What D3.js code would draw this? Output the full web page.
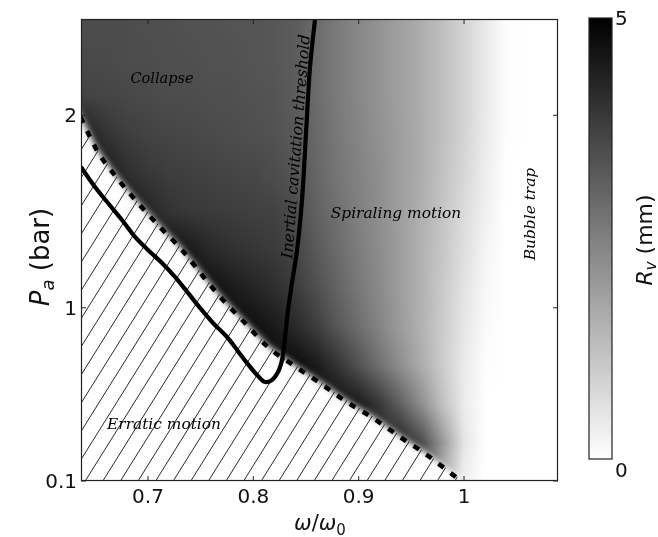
<!DOCTYPE html>
<html><head><meta charset="utf-8">
<script src="https://cdn.jsdelivr.net/npm/d3@7"></script>
<style>
html,body{margin:0;padding:0;background:#fff;}
#wrap{position:relative;width:658px;height:537px;overflow:hidden;}
canvas,svg{position:absolute;left:0;top:0;}
</style>
</head><body>
<div id="wrap"><canvas id="hm" width="658" height="537"></canvas><svg id="chart" width="658" height="537"></svg></div>
<script>
// ---------------- data ----------------
const omegaGrid = [0.64,0.66,0.68,0.70,0.72,0.74,0.76,0.78,0.80,0.82,0.84,0.86,0.88,0.90,0.92,0.94,0.96,0.98,1.00,1.02,1.04,1.06,1.08];
const pressureGrid = [2.5,2.3,2.1,1.9,1.7,1.5,1.3,1.1,0.9,0.7,0.5,0.3,0.1];
// bubble radius R_v (mm), one row per pressure (top to bottom)
const rvRow25 = [3.5,3.5,3.5,3.45,3.45,3.4,3.4,3.35,3.35,3.3,3.2,2.9,2.6,2.35,2.1,1.85,1.6,1.25,0.85,0.45,0.05,0,0];
const rvRow23 = [3.55,3.55,3.5,3.5,3.45,3.45,3.4,3.4,3.35,3.3,3.2,2.9,2.6,2.35,2.1,1.85,1.6,1.25,0.85,0.45,0.05,0,0];
const rvRow21 = [3.7,3.65,3.6,3.55,3.5,3.5,3.45,3.45,3.4,3.35,3.2,2.9,2.6,2.35,2.1,1.85,1.6,1.25,0.85,0.45,0.05,0,0];
const rvRow19 = [4.4,4.0,3.8,3.7,3.65,3.6,3.55,3.5,3.45,3.4,3.25,2.95,2.65,2.4,2.15,1.9,1.6,1.25,0.85,0.4,0.05,0,0];
const rvRow17 = [4.6,4.5,4.1,3.9,3.8,3.75,3.7,3.65,3.6,3.5,3.35,3.0,2.7,2.45,2.2,1.9,1.6,1.2,0.8,0.35,0,0,0];
const rvRow15 = [4.6,4.6,4.6,4.3,4.0,3.9,3.85,3.8,3.75,3.7,3.5,3.1,2.8,2.5,2.2,1.9,1.55,1.15,0.7,0.3,0,0,0];
const rvRow13 = [4.7,4.7,4.7,4.7,4.7,4.5,4.2,4.05,3.95,3.85,3.65,3.25,2.9,2.55,2.25,1.9,1.5,1.1,0.65,0.2,0,0,0];
const rvRow11 = [4.7,4.7,4.7,4.7,4.7,4.7,4.7,4.5,4.3,4.1,3.85,3.45,3.05,2.65,2.3,1.9,1.5,1.05,0.55,0.15,0,0,0];
const rvRow09 = [4.8,4.8,4.8,4.8,4.8,4.8,4.8,4.8,4.7,4.5,4.2,3.8,3.3,2.85,2.4,1.95,1.5,1.0,0.5,0.1,0,0,0];
const rvRow07 = [4.8,4.8,4.8,4.8,4.8,4.8,4.8,4.8,4.8,4.8,4.8,4.5,4.0,3.4,2.8,2.2,1.6,1.0,0.4,0.05,0,0,0];
const rvRow05 = [4.7,4.7,4.7,4.7,4.7,4.7,4.7,4.7,4.7,4.7,4.7,4.7,4.7,4.5,3.9,3.1,2.2,1.2,0.4,0,0,0,0];
const rvRow03 = [4.3,4.3,4.3,4.3,4.3,4.3,4.3,4.3,4.3,4.3,4.3,4.3,4.3,4.3,4.3,4.3,3.5,2.0,0.5,0,0,0,0];
const rvRow01 = [3.5,3.5,3.5,3.5,3.5,3.5,3.5,3.5,3.5,3.5,3.5,3.5,3.5,3.5,3.5,3.5,3.5,1.5,0.3,0,0,0,0];
const rvRows = [rvRow25,rvRow23,rvRow21,rvRow19,rvRow17,rvRow15,rvRow13,rvRow11,rvRow09,rvRow07,rvRow05,rvRow03,rvRow01];

// erratic-motion boundary (dashed)
const boundaryOmega = [0.636,0.6525,0.6706,0.6905,0.7114,0.7323,0.7513,0.7712,0.7921,0.8139,0.8377,0.8633,0.8889,0.9136,0.9392,0.9649,0.9886,0.9934];
const boundaryP     = [1.991,1.809,1.674,1.544,1.419,1.300,1.170,1.040,0.921,0.796,0.703,0.609,0.510,0.427,0.329,0.235,0.136,0.116];
// inertial cavitation threshold (solid)
const thresholdOmega = [0.6364,0.6497,0.6620,0.6753,0.6877,0.7000,0.7133,0.7256,0.7380,0.7494,0.7617,0.7750,0.7845,0.7940,0.8035,0.8111,0.8177,0.8234,0.8272,0.8301,0.8329,0.8367,0.8415,0.8462,0.8500,0.8538,0.8586];
const thresholdP     = [1.731,1.627,1.544,1.456,1.368,1.300,1.232,1.160,1.077,0.999,0.921,0.848,0.781,0.713,0.651,0.614,0.625,0.666,0.729,0.848,0.988,1.129,1.300,1.560,1.908,2.251,2.500];

const xTicks = [0.7,0.8,0.9,1.0];
const xTickLabels = ["0.7","0.8","0.9","1"];
const yTicks = [0.1,1,2];
const yTickLabels = ["0.1","1","2"];
const cbTicks = [0,5];
const cbTickLabels = ["0","5"];

// ---------------- layout ----------------
const L = 81, T = 19, R = 558, B = 481;
const x = d3.scaleLinear().domain([0.6364,1.0892]).range([L,R]);
const y = d3.scaleLinear().domain([0.1,2.5]).range([B,T]);
const color = d3.scaleLinear().domain([0,5]).range(["#ffffff","#000000"]).clamp(true);

// ---------------- heatmap (canvas) ----------------
const ctx = document.getElementById('hm').getContext('2d');
const colIdx = d3.scaleLinear().domain([omegaGrid[0], omegaGrid[omegaGrid.length-1]]).range([0, omegaGrid.length-1]).clamp(true);
const rowIdx = d3.scaleLinear().domain([pressureGrid[0], pressureGrid[pressureGrid.length-1]]).range([0, pressureGrid.length-1]).clamp(true);
const W = R - L, H = B - T;
const img = ctx.createImageData(W, H);
for (let py = 0; py < H; py++) {
  const fr = rowIdx(y.invert(T + py + 0.5));
  const r0 = Math.floor(fr), r1 = Math.min(r0 + 1, pressureGrid.length - 1), tr = fr - r0;
  for (let px = 0; px < W; px++) {
    const fc = colIdx(x.invert(L + px + 0.5));
    const c0 = Math.floor(fc), c1 = Math.min(c0 + 1, omegaGrid.length - 1), tc = fc - c0;
    const v = (rvRows[r0][c0]*(1-tc) + rvRows[r0][c1]*tc)*(1-tr) + (rvRows[r1][c0]*(1-tc) + rvRows[r1][c1]*tc)*tr;
    const c = d3.rgb(color(v));
    const i = (py*W + px)*4;
    img.data[i] = c.r; img.data[i+1] = c.g; img.data[i+2] = c.b; img.data[i+3] = 255;
  }
}
ctx.putImageData(img, L, T);

// ---------------- svg overlay ----------------
const svg = d3.select('#chart');
const defs = svg.append('defs');
defs.append('clipPath').attr('id','plotClip').append('rect')
  .attr('x',L).attr('y',T).attr('width',W).attr('height',H);
defs.append('filter').attr('id','soft').attr('x','-20%').attr('y','-20%').attr('width','140%').attr('height','140%')
  .append('feGaussianBlur').attr('stdDeviation',3.2);

const bPts = boundaryOmega.map((w,i)=>[x(w), y(boundaryP[i])]);
const first = bPts[0], last = bPts[bPts.length-1];
const regionPts = [[first[0]-30, first[1]-55], ...bPts.map(p=>[p[0], p[1]-1.5]), [last[0]+12, last[1]+12], [last[0]+12, B+40], [L-40, B+40], [L-40, first[1]-55]];
const regionLine = d3.line().curve(d3.curveLinear);
defs.append('clipPath').attr('id','regionClip').append('path').attr('d', regionLine(regionPts));

const plot = svg.append('g').attr('clip-path','url(#plotClip)');
// blurred white erratic region
plot.append('path').attr('d', regionLine(regionPts)).attr('fill','#fff').attr('filter','url(#soft)');

// hatch
const hatch = plot.append('g').attr('clip-path','url(#regionClip)');
const slope = 1.6, spacing = 17.6, x0h = 240.5;
d3.range(-40, 20).forEach(k=>{
  const xb = x0h + k*spacing;
  hatch.append('line').attr('x1', xb).attr('y1', B+5).attr('x2', xb + (B - T + 10)/slope).attr('y2', T-5)
    .attr('stroke','#111').attr('stroke-width',0.9);
});

// dashed boundary
plot.append('path').attr('d', d3.line().curve(d3.curveMonotoneX)(bPts))
  .attr('fill','none').attr('stroke','#000').attr('stroke-width',4.6)
  .attr('stroke-dasharray','6.5 8.8');

// threshold curve
const tPts = thresholdOmega.map((w,i)=>[x(w), y(thresholdP[i])]);
plot.append('path').attr('d', d3.line().curve(d3.curveCatmullRom.alpha(0.5))(tPts))
  .attr('fill','none').attr('stroke','#000').attr('stroke-width',4.2).attr('stroke-linejoin','round');

// annotations
const ann = svg.append('g').attr('font-family','"DejaVu Serif", serif').attr('font-style','italic').attr('fill','#000').attr('font-size',15.4);
ann.append('text').attr('x',162).attr('y',83).attr('text-anchor','middle').attr('font-size',14.5).text('Collapse');
ann.append('text').attr('x',396).attr('y',218).attr('text-anchor','middle').text('Spiraling motion');
ann.append('text').attr('x',164).attr('y',429).attr('text-anchor','middle').text('Erratic motion');
ann.append('text').attr('transform','translate(535,214) rotate(-90)').attr('text-anchor','middle').text('Bubble trap');
ann.append('text').attr('transform','translate(301,147) rotate(-85.5)').attr('text-anchor','middle').attr('font-size',15.8).text('Inertial cavitation threshold');

// frame
svg.append('rect').attr('x',L+0.5).attr('y',T+0.5).attr('width',W-1).attr('height',H-1)
  .attr('fill','none').attr('stroke','#222').attr('stroke-width',1.2);

// ticks
const tk = svg.append('g').attr('stroke','#222').attr('stroke-width',1);
xTicks.forEach(v=>{
  tk.append('line').attr('x1',x(v)).attr('x2',x(v)).attr('y1',B).attr('y2',B-5);
  tk.append('line').attr('x1',x(v)).attr('x2',x(v)).attr('y1',T).attr('y2',T+5);
});
yTicks.forEach(v=>{
  tk.append('line').attr('x1',L).attr('x2',L+5).attr('y1',y(v)).attr('y2',y(v));
  tk.append('line').attr('x1',R).attr('x2',R-5).attr('y1',y(v)).attr('y2',y(v));
});
const lab = svg.append('g').attr('font-family','"DejaVu Sans", sans-serif').attr('font-size',20).attr('fill','#111');
xTicks.forEach((v,i)=>{
  lab.append('text').attr('x',x(v)).attr('y',503).attr('text-anchor','middle').text(xTickLabels[i]);
});
yTicks.forEach((v,i)=>{
  lab.append('text').attr('x',77).attr('y',y(v)+7).attr('text-anchor','end').text(yTickLabels[i]);
});

// axis titles
const xt = lab.append('text').attr('x',320).attr('y',530).attr('text-anchor','middle').attr('font-size',21);
xt.append('tspan').attr('font-style','italic').text('ω');
xt.append('tspan').text('/');
xt.append('tspan').attr('font-style','italic').text('ω');
xt.append('tspan').attr('font-size',15).attr('dy',5).text('0');

const yt = lab.append('text').attr('transform','translate(49,257) rotate(-90)').attr('text-anchor','middle').attr('font-size',26);
yt.append('tspan').attr('font-style','italic').text('P');
yt.append('tspan').attr('font-style','italic').attr('font-size',18).attr('dy',5).text('a');
yt.append('tspan').attr('dy',-5).text(' (bar)');

// colorbar
const cbL = 589, cbR = 612, cbT = 18, cbB = 459;
const cy = d3.scaleLinear().domain([0,5]).range([cbB,cbT]);
const grad = defs.append('linearGradient').attr('id','cbGrad').attr('x1',0).attr('y1',1).attr('x2',0).attr('y2',0);
d3.range(0,5.01,0.5).forEach(v=>{
  grad.append('stop').attr('offset', v/5).attr('stop-color', color(v));
});
svg.append('rect').attr('x',cbL).attr('y',cy(5)).attr('width',cbR-cbL).attr('height',cy(0)-cy(5))
  .attr('fill','url(#cbGrad)').attr('stroke','#222').attr('stroke-width',1.2);
cbTicks.forEach((v,i)=>{
  lab.append('text').attr('x',615).attr('y', i===0 ? cy(v)+18 : cy(v)+7).text(cbTickLabels[i]);
});
const ct = lab.append('text').attr('transform','translate(652,240) rotate(-90)').attr('text-anchor','middle').attr('font-size',22);
ct.append('tspan').attr('font-style','italic').text('R');
ct.append('tspan').attr('font-style','italic').attr('font-size',15).attr('dy',4).text('v');
ct.append('tspan').attr('dy',-4).text(' (mm)');
</script>
</body></html>
